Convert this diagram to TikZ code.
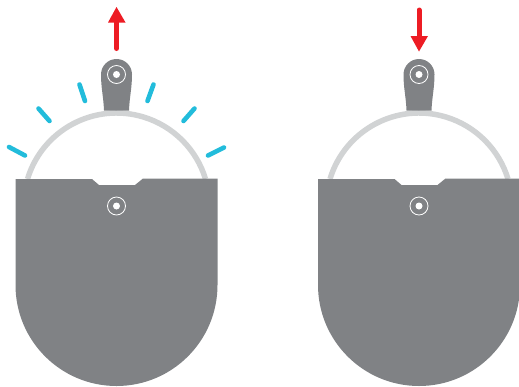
\documentclass[tikz,border=0pt]{standalone}
\usetikzlibrary{arrows.meta}
\definecolor{bodygray}{HTML}{808285}
\definecolor{trackgray}{HTML}{D1D3D4}
\definecolor{sparkblue}{HTML}{22BCDB}
\definecolor{pushred}{HTML}{ED1C24}
\begin{document}
\begin{tikzpicture}[x=1pt, y=1pt, yscale=-1,
        body/.style={fill=bodygray, draw=none},
        track/.style={draw=trackgray, line width=5.5pt},
        spark/.style={draw=sparkblue, line width=4.6pt, line cap=round},
        push/.style={fill=pushred, draw=none},
        shaft/.style={draw=pushred, line width=5pt, line cap=round},
        pinring/.style={circle, draw=white, line width=0.8pt, minimum size=18pt, inner sep=0pt},
        pindot/.style={circle, fill=white, minimum size=7pt, inner sep=0pt}]
    \useasboundingbox (0,0) rectangle (519,386);
    \foreach \dx in {0,302.5} {
        \begin{scope}[xshift=\dx pt]
            \coordinate (hinge) at (116.5,206);
            \draw[track] (hinge) ++(196.9:93pt) arc[start angle=196.9, end angle=343.1, radius=93pt];
            \fill[body] (104,110.5) .. controls (103.5,97) and (101,88) .. (101,74.5)
                arc[start angle=180, end angle=360, radius=15.5pt]
                .. controls (132,88) and (129.5,97) .. (129,110.5) -- cycle;
            \fill[body] (15.5,179) -- (92,179) -- (99,185) -- (135,185) -- (143,178.5) -- (217.5,178.5)
                -- (217.5,285) arc[start angle=0, end angle=180, radius=101pt] -- cycle;
            \node[pinring] (topring) at (116.5,74.5) {};
            \node[pindot] (topdot) at (topring) {};
            \node[pinring] (lowring) at (hinge) {};
            \node[pindot] (lowdot) at (lowring) {};
        \end{scope}
    }
    % sparks round the left track
    \foreach \ax/\ay/\bx/\by in {9/147/25/155.5, 38.5/108.5/49.5/121, 79.5/84.5/85/101,
            153.5/84.5/147.5/101, 194.5/108.5/183.5/121, 224/147.5/208/155.5}
        \draw[spark] (\ax,\ay) -- (\bx,\by);
    \coordinate (uptail) at (116.5,48.5);
    \coordinate (upneck) at (116.5,22);
    \coordinate (downtail) at (419,10);
    \coordinate (downneck) at (419,36);
    \draw[shaft] (uptail) -- (upneck);
    \fill[push] (108,22.5) -- (116.5,7) -- (125.5,22.5) -- cycle;
    \draw[shaft] (downtail) -- (downneck);
    \fill[push] (410.5,36) -- (419,51.5) -- (428,36) -- cycle;
\end{tikzpicture}
\end{document}
